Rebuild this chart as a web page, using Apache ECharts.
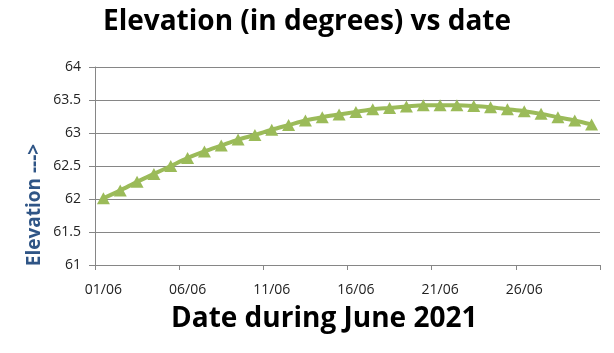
<!DOCTYPE html>
<html>
<head>
<meta charset="utf-8">
<script src="https://cdn.jsdelivr.net/npm/echarts@6/dist/echarts.min.js"></script>
<style>
html,body{margin:0;padding:0;background:#fff;}
#chart{width:614px;height:353px;}
</style>
</head>
<body>
<div id="chart"></div>
<script>
var days = ['01/06','02/06','03/06','04/06','05/06','06/06','07/06','08/06','09/06','10/06',
            '11/06','12/06','13/06','14/06','15/06','16/06','17/06','18/06','19/06','20/06',
            '21/06','22/06','23/06','24/06','25/06','26/06','27/06','28/06','29/06','30/06'];
var elevation = [62.01,62.13,62.26,62.38,62.50,62.62,62.72,62.81,62.90,62.97,
                 63.05,63.12,63.19,63.24,63.28,63.32,63.36,63.38,63.40,63.42,
                 63.42,63.42,63.41,63.39,63.36,63.33,63.29,63.24,63.19,63.13];
var titleText = 'Elevation (in degrees) vs date';
var xName = 'Date during June 2021';
var yName = 'Elevation --->';

var chart = echarts.init(document.getElementById('chart'), null, {renderer:'canvas'});
chart.setOption({
  animation: false,
  backgroundColor: '#ffffff',
  title: [
    {text: titleText, left: 'center', top: 3,
     textStyle: {fontFamily: 'Open Sans', fontWeight: 'bold', fontSize: 28, color: '#000'}},
    {text: xName, left: 166, top: 300,
     textStyle: {fontFamily: 'Open Sans', fontWeight: 'bold', fontSize: 28, color: '#000'}}
  ],
  graphic: [
    {type: 'text', x: 35, y: 205, rotation: Math.PI/2,
     style: {text: yName, fill: '#2F5586', font: 'bold 19px "Open Sans"',
             align: 'center', verticalAlign: 'middle'}}
  ],
  grid: {left: 95, right: 14, top: 67, bottom: 88, containLabel: false},
  xAxis: {
    type: 'category',
    data: days,
    boundaryGap: true,
    axisLine: {lineStyle: {color: '#868686', width: 1}},
    axisTick: {show: true, interval: 4, length: 5, lineStyle: {color: '#868686'}},
    axisLabel: {interval: 4, margin: 18, fontFamily: 'Open Sans', fontSize: 14, color: '#222'},
    splitLine: {show: false}
  },
  yAxis: {
    type: 'value',
    min: 61, max: 64, interval: 0.5,
    axisLine: {show: true, lineStyle: {color: '#868686', width: 1}},
    axisTick: {show: true, length: 6, lineStyle: {color: '#868686'}},
    axisLabel: {margin: 14, fontFamily: 'Open Sans', fontSize: 14, color: '#222'},
    splitLine: {show: true, lineStyle: {color: '#868686', width: 1}}
  },
  series: [{
    type: 'line',
    data: elevation,
    smooth: 0.3,
    symbol: 'triangle',
    symbolSize: [13, 12],
    showSymbol: true,
    showAllSymbol: true,
    lineStyle: {color: '#9BBB59', width: 4},
    itemStyle: {color: '#9BBB59', borderWidth: 0}
  }]
});
</script>
</body>
</html>
